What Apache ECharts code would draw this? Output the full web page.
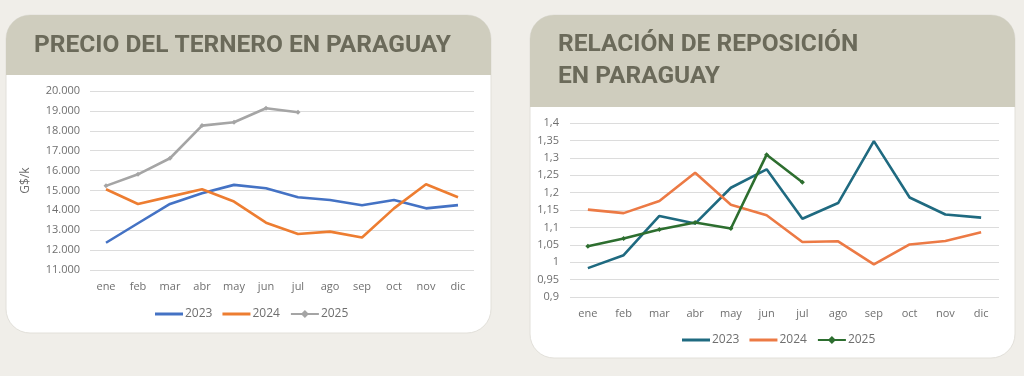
<!DOCTYPE html>
<html>
<head>
<meta charset="utf-8">
<script src="https://cdn.jsdelivr.net/npm/echarts@6/dist/echarts.min.js"></script>
<style>
  html, body { margin: 0; padding: 0; background: #f0eee9; }
  #chart { width: 1024px; height: 376px; }
</style>
</head>
<body>
<div id="chart"></div>
<script>
// data
const months = ["ene", "feb", "mar", "abr", "may", "jun", "jul", "ago", "sep", "oct", "nov", "dic"];
const seriesNames = ["2023", "2024", "2025"];

// precio del ternero, G$/k
const precio2023 = [12370, 13350, 14320, 14860, 15280, 15110, 14660, 14520, 14260, 14520, 14100, 14260];
const precio2024 = [15060, 14320, 14690, 15060, 14440, 13380, 12810, 12930, 12630, 14100, 15310, 14660];
const precio2025 = [15230, 15810, 16620, 18260, 18430, 19130, 18930];
const precioAxis = { min: 11000, max: 20000, interval: 1000 };

// relacion de reposicion
const relacion2023 = [0.983, 1.02, 1.133, 1.111, 1.214, 1.267, 1.125, 1.17, 1.348, 1.186, 1.137, 1.128];
const relacion2024 = [1.151, 1.141, 1.176, 1.257, 1.165, 1.135, 1.058, 1.06, 0.994, 1.051, 1.061, 1.086];
const relacion2025 = [1.046, 1.068, 1.094, 1.114, 1.097, 1.309, 1.23];
const relacionAxis = { min: 0.9, max: 1.4, interval: 0.05 };

const leftColors = ["#4472c4", "#ed7d31", "#a5a5a5"];
const rightColors = ["#1f6a80", "#ec7a45", "#2d6e2f"];

const headerColor = "#cfcdbe";
const titleColor = "#6b6a5a";
const labelColor = "#6f6f6f";
const titleFont = "Roboto, 'Open Sans', sans-serif";
const lineIcon = "path://M0,0 L28,0 L28,3 L0,3 Z";

function card(x, y, w, h, headH) {
  return [
    {
      type: "rect", z: -10, silent: true,
      shape: { x: x, y: y, width: w, height: h, r: 24 },
      style: { fill: "#ffffff", stroke: "#e2e0da", lineWidth: 1 }
    },
    {
      type: "rect", z: -9, silent: true,
      shape: { x: x, y: y, width: w, height: headH, r: [24, 24, 0, 0] },
      style: { fill: headerColor }
    }
  ];
}

function titleText(x, y, text) {
  return {
    type: "text", z: 10, silent: true,
    left: x, top: y,
    style: {
      text: text, fill: titleColor,
      font: "bold 24.5px " + titleFont, lineHeight: 32
    }
  };
}

function fmtPrecio(v) {
  return (v / 1000).toFixed(3);
}
function fmtRelacion(v) {
  return String(parseFloat(v.toFixed(2))).replace(".", ",");
}

function lineSeries(name, data, color, idx, withMarker) {
  return {
    name: name,
    type: "line",
    xAxisIndex: idx,
    yAxisIndex: idx,
    data: data,
    smooth: false,
    symbol: withMarker ? "diamond" : "none",
    symbolSize: 5,
    showSymbol: withMarker,
    itemStyle: { color: color },
    lineStyle: { color: color, width: 2.6 },
    emphasis: { disabled: true }
  };
}

function legendFor(suffix, left, top) {
  return {
    data: seriesNames.map((n, i) => (i < 2 ? { name: n + suffix, icon: lineIcon } : { name: n + suffix })),
    formatter: (n) => n.trim(),
    left: left, top: top,
    padding: 0,
    itemWidth: 28, itemHeight: 10, itemGap: 10,
    symbolKeepAspect: true,
    textStyle: { color: labelColor, fontSize: 12, padding: [0, 0, 0, -3] },
    selectedMode: false
  };
}

const myChart = echarts.init(document.getElementById("chart"), null, { renderer: "canvas" });

myChart.setOption({
  backgroundColor: "#f0eee9",
  animation: false,
  textStyle: { fontFamily: "'Open Sans', sans-serif" },
  graphic: [
    ...card(6, 15, 485, 318, 60),
    ...card(530, 15, 485, 343, 92),
    titleText(34, 30, "PRECIO DEL TERNERO EN PARAGUAY"),
    titleText(558, 29, "RELACIÓN DE REPOSICIÓN\nEN PARAGUAY")
  ],
  grid: [
    { left: 90, right: 550, top: 91, bottom: 106 },
    { left: 570, right: 25, top: 123, bottom: 79 }
  ],
  // right-hand names carry a trailing space to keep the two legends apart
  legend: [legendFor("", 155, 308), legendFor(" ", 682, 334)],
  xAxis: [0, 1].map((i) => ({
    type: "category",
    gridIndex: i,
    data: months,
    boundaryGap: true,
    axisLine: { show: false },
    axisTick: { show: false },
    axisLabel: { color: labelColor, fontSize: 11, margin: 11 }
  })),
  yAxis: [
    {
      type: "value", gridIndex: 0,
      min: precioAxis.min, max: precioAxis.max, interval: precioAxis.interval,
      name: "G$/k", nameLocation: "middle", nameGap: 58, nameRotate: 90,
      nameTextStyle: { color: labelColor, fontSize: 12 },
      axisLabel: { color: labelColor, fontSize: 11, margin: 10, formatter: fmtPrecio },
      splitLine: { lineStyle: { color: "#dcdcdc", width: 1.2 } }
    },
    {
      type: "value", gridIndex: 1,
      min: relacionAxis.min, max: relacionAxis.max, interval: relacionAxis.interval,
      axisLabel: { color: labelColor, fontSize: 11, margin: 11, formatter: fmtRelacion },
      splitLine: { lineStyle: { color: "#dcdcdc", width: 1.2 } }
    }
  ],
  series: [
    lineSeries("2023", precio2023, leftColors[0], 0, false),
    lineSeries("2024", precio2024, leftColors[1], 0, false),
    lineSeries("2025", precio2025, leftColors[2], 0, true),
    lineSeries("2023 ", relacion2023, rightColors[0], 1, false),
    lineSeries("2024 ", relacion2024, rightColors[1], 1, false),
    lineSeries("2025 ", relacion2025, rightColors[2], 1, true)
  ]
});
</script>
</body>
</html>
